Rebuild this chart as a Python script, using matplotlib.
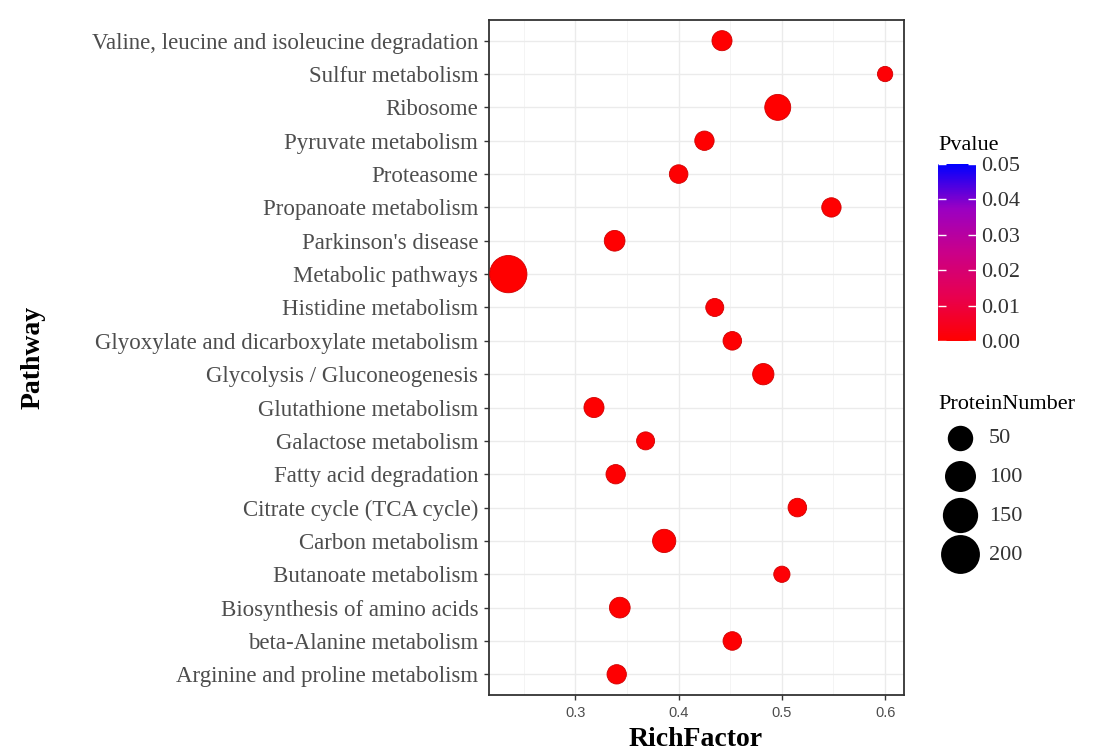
import numpy as np
import matplotlib.pyplot as plt
from matplotlib.colors import LinearSegmentedColormap, Normalize

# pathways listed bottom -> top
pathways = ["Arginine and proline metabolism", "beta-Alanine metabolism",
            "Biosynthesis of amino acids", "Butanoate metabolism",
            "Carbon metabolism", "Citrate cycle (TCA cycle)",
            "Fatty acid degradation", "Galactose metabolism",
            "Glutathione metabolism", "Glycolysis / Gluconeogenesis",
            "Glyoxylate and dicarboxylate metabolism", "Histidine metabolism",
            "Metabolic pathways", "Parkinson's disease", "Propanoate metabolism",
            "Proteasome", "Pyruvate metabolism", "Ribosome", "Sulfur metabolism",
            "Valine, leucine and isoleucine degradation"]
rich_factor = [0.340, 0.452, 0.343, 0.500, 0.386, 0.515, 0.339, 0.368, 0.318, 0.482,
               0.452, 0.435, 0.235, 0.338, 0.548, 0.400, 0.425, 0.496, 0.600, 0.442]
protein_number = [15, 12, 21, 5, 35, 12, 15, 10, 18, 24,
                  12, 10, 177, 21, 15, 12, 15, 54, 3, 18]
pvalue = [0.0004, 0.0005, 0.0001, 0.0008, 0.00001, 0.0003, 0.0004, 0.0006, 0.0003, 0.0001,
          0.0005, 0.0007, 0.0, 0.0002, 0.0003, 0.0004, 0.0002, 0.0, 0.0009, 0.0002]

size_breaks = [50, 100, 150, 200]
p_breaks = [0.00, 0.01, 0.02, 0.03, 0.04, 0.05]

SERIF = ['Liberation Serif', 'DejaVu Serif']
W, H = 1115, 755


def marker_area(n):
    # diameter in px grows with sqrt(count), converted to points^2
    d_px = 12 + 1.9 * np.sqrt(np.asarray(n, dtype=float))
    return (d_px * 72 / 100) ** 2


# red -> blue through Lab-like purple, as ggplot's gradient
cmap = LinearSegmentedColormap.from_list(
    'p', ['#FF0000', '#E8004F', '#CA0089', '#9A00C3', '#0000FF'])
norm = Normalize(0, 0.05)

fig = plt.figure(figsize=(W / 100, H / 100), dpi=100)
ax = fig.add_axes([489 / W, 1 - 695 / H, (904 - 489) / W, (695 - 20) / H])

ypos = np.arange(len(pathways))
ax.scatter(rich_factor, ypos, s=marker_area(protein_number), c=pvalue,
           cmap=cmap, norm=norm, edgecolors='#D00000', linewidths=0.6, zorder=3)

ax.set_yticks(ypos)
ax.set_yticklabels(pathways, family=SERIF, fontsize=16.5, color='#4D4D4D')
ax.set_ylim(-0.62, len(pathways) - 0.38)
ax.set_xlim(0.2163, 0.6183)
ax.set_xticks([0.3, 0.4, 0.5, 0.6])
ax.set_xticklabels(['0.3', '0.4', '0.5', '0.6'], family='Liberation Sans',
                   fontsize=10.5, color='#4D4D4D')
ax.set_xticks([0.25, 0.35, 0.45, 0.55], minor=True)
ax.tick_params(axis='both', which='major', length=3.8, width=1.0, color='#333333', pad=4)
ax.tick_params(axis='x', which='minor', length=0)

ax.grid(True, which='major', color='#EBEBEB', linewidth=1.0, zorder=0)
ax.grid(True, which='minor', axis='x', color='#F2F2F2', linewidth=0.6, zorder=0)
ax.set_axisbelow(True)
for sp in ax.spines.values():
    sp.set_color('#333333')
    sp.set_linewidth(1.3)

fig.text(696 / W, 1 - 740 / H, 'RichFactor', ha='center', va='center',
         family=SERIF, fontsize=20, fontweight='bold')
fig.text(33 / W, 1 - 357 / H, 'Pathway', ha='center', va='center', rotation=90,
         family=SERIF, fontsize=20, fontweight='bold')

# colour bar for Pvalue
cax = fig.add_axes([938 / W, 1 - 341 / H, 38 / W, (341 - 164) / H])
sm = plt.cm.ScalarMappable(norm=norm, cmap=cmap)
cb = fig.colorbar(sm, cax=cax, ticks=p_breaks)
cb.outline.set_visible(False)
cb.ax.set_yticklabels(['%.2f' % p for p in p_breaks], family=SERIF,
                      fontsize=16, color='#333333')
cb.ax.tick_params(length=0, pad=4)
cb.ax.hlines(p_breaks, 0, 0.2, colors='white', linewidth=1)
cb.ax.hlines(p_breaks, 0.8, 1, colors='white', linewidth=1)
fig.text(938 / W, 1 - 146 / H, 'Pvalue', ha='left', va='center',
         family=SERIF, fontsize=16)

# size legend
handles = [ax.scatter([], [], s=marker_area(v), c='black', linewidths=0)
           for v in size_breaks]
leg = ax.legend(handles, [str(v) for v in size_breaks], title='ProteinNumber',
                loc='upper left', bbox_to_anchor=(938 / W, 1 - 395 / H),
                bbox_transform=fig.transFigure, frameon=False,
                prop={'family': SERIF, 'size': 16}, labelspacing=0.82,
                handletextpad=0.3, borderpad=0, borderaxespad=0,
                title_fontproperties={'family': SERIF, 'size': 16})
leg._legend_box.align = 'left'
leg._legend_box.sep = 10
for t in leg.get_texts():
    t.set_color('#333333')

fig.savefig('out.png', dpi=100)
